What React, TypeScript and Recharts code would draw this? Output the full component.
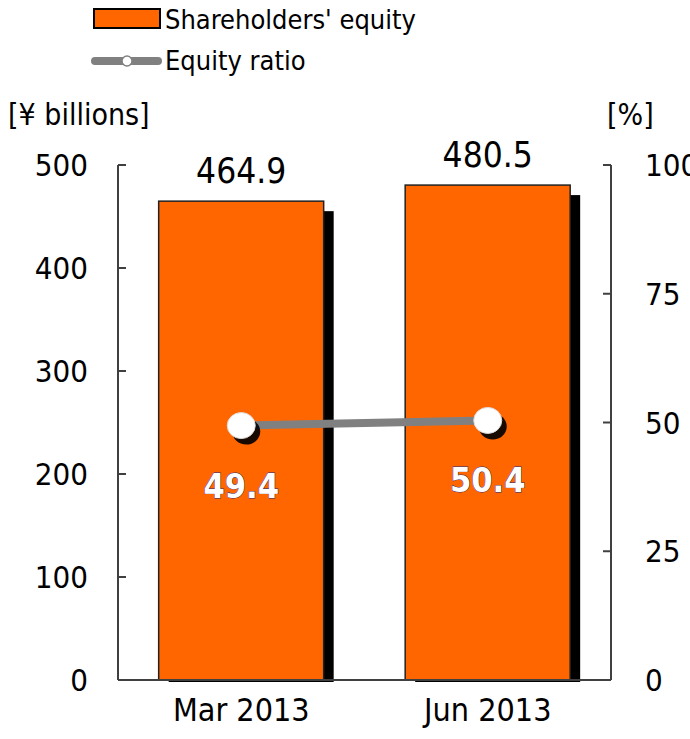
import React from 'react';
import { ComposedChart, Bar, Line, XAxis, YAxis, LabelList, Legend } from 'recharts';

const categories = ['Mar 2013', 'Jun 2013'];
const equity = [464.9, 480.5];
const ratio = [49.4, 50.4];
const leftTicks = [0, 100, 200, 300, 400, 500];
const rightTicks = [0, 25, 50, 75, 100];

const data = categories.map((c, i) => ({ name: c, equity: equity[i], ratio: ratio[i] }));

const FONT = "'DejaVu Sans Condensed', 'DejaVu Sans', sans-serif";
const ORANGE = '#FF6600';
const AXIS = '#404040';

const LeftTick = (p: any) => {
  const { x, y, payload } = p;
  return (
    <g>
      <line x1={x + 30} x2={x + 38} y1={y} y2={y} stroke={AXIS} strokeWidth={2} />
      <text x={x} y={y} dy="0.36em" textAnchor="end" fontFamily={FONT} fontSize={31} fill="#000">
        {payload.value}
      </text>
    </g>
  );
};

const RightTick = (p: any) => {
  const { x, y, payload } = p;
  return (
    <g>
      <line x1={x - 34} x2={x - 42} y1={y} y2={y} stroke={AXIS} strokeWidth={2} />
      <text x={x} y={y} dy="0.36em" textAnchor="start" fontFamily={FONT} fontSize={31} fill="#000">
        {payload.value}
      </text>
    </g>
  );
};

const BarShape = (p: any) => {
  const { x, y, width, height } = p;
  return (
    <g>
      <rect x={x + 10} y={y + 10} width={width} height={height - 8} fill="#000" />
      <rect x={x} y={y} width={width} height={height} fill={ORANGE} stroke="#222" strokeWidth={1.5} />
    </g>
  );
};

const Dot = (p: any) => {
  const { cx, cy } = p;
  if (cx == null || cy == null) return null;
  return (
    <g>
      <ellipse cx={cx + 5} cy={cy + 6} rx={14} ry={13} fill="#000" opacity={0.9} />
      <ellipse cx={cx} cy={cy} rx={14} ry={13} fill="#fff" stroke="#ddd" strokeWidth={1} />
    </g>
  );
};

const BarLabel = (p: any) => {
  const { x, y, width, value } = p;
  return (
    <text x={x + width / 2} y={y - 18} textAnchor="middle" fontFamily={FONT} fontSize={35} fill="#000">
      {Number(value).toFixed(1)}
    </text>
  );
};

const RatioLabel = (p: any) => {
  const { x, y, value } = p;
  return (
    <text x={x} y={y + 72} textAnchor="middle" fontFamily={FONT} fontSize={34} fontWeight="bold"
      fill="#fff" stroke="#1a2a80" strokeWidth={0.8} paintOrder="stroke">
      {Number(value).toFixed(1)}
    </text>
  );
};

const LegendContent = () => (
  <svg width={420} height={80} style={{ display: 'block' }}>
    <rect x={94} y={9} width={66} height={19} fill={ORANGE} stroke="#000" strokeWidth={2} />
    <text x={165} y={29} fontFamily={FONT} fontSize={27} fill="#000">Shareholders' equity</text>
    <line x1={95} x2={158} y1={61} y2={61} stroke="#808080" strokeWidth={8} strokeLinecap="round" />
    <circle cx={127} cy={61} r={5} fill="#fff" stroke="#808080" strokeWidth={1.5} />
    <text x={165} y={70} fontFamily={FONT} fontSize={27} fill="#000">Equity ratio</text>
  </svg>
);

export default function App() {
  return (
    <div style={{ position: 'absolute', left: 0, top: 0, width: 690, height: 739, background: '#fff' }}>
      <ComposedChart width={690} height={739} data={data}
        margin={{ top: 85, right: 0, bottom: 0, left: 0 }} barCategoryGap="16.5%">
        <Legend verticalAlign="top" align="left" content={<LegendContent />}
          wrapperStyle={{ position: 'absolute', top: 0, left: 0, width: 420, height: 80 }} />
        <XAxis dataKey="name" height={59} axisLine={{ stroke: AXIS, strokeWidth: 2 }} tickLine={false}
          tickMargin={12} tick={{ fontFamily: FONT, fontSize: 32, fill: '#000' }} />
        <YAxis yAxisId="left" orientation="left" width={118} domain={[0, 500]} ticks={leftTicks}
          interval={0} tickSize={0} tickMargin={30} tickLine={false}
          axisLine={{ stroke: AXIS, strokeWidth: 2 }} tick={<LeftTick />}
          label={{
            content: (lp: any) => {
              const vb = lp.viewBox || {};
              return (
                <text x={8} y={(vb.y ?? 165) - 40} fontFamily={FONT} fontSize={30} fill="#000">[¥ billions]</text>
              );
            },
          }} />
        <YAxis yAxisId="right" orientation="right" width={79} domain={[0, 100]} ticks={rightTicks}
          interval={0} tickSize={0} tickMargin={34} tickLine={false}
          axisLine={{ stroke: AXIS, strokeWidth: 2 }} tick={<RightTick />}
          label={{
            content: (lp: any) => {
              const vb = lp.viewBox || {};
              return (
                <text x={607} y={(vb.y ?? 165) - 40} fontFamily={FONT} fontSize={30} fill="#000">[%]</text>
              );
            },
          }} />
        <Bar yAxisId="left" dataKey="equity" fill={ORANGE} shape={<BarShape />} isAnimationActive={false}>
          <LabelList dataKey="equity" content={<BarLabel />} />
        </Bar>
        <Line yAxisId="right" dataKey="ratio" stroke="#808080" strokeWidth={8} dot={<Dot />}
          activeDot={false} isAnimationActive={false}>
          <LabelList dataKey="ratio" content={<RatioLabel />} />
        </Line>
      </ComposedChart>
    </div>
  );
}
